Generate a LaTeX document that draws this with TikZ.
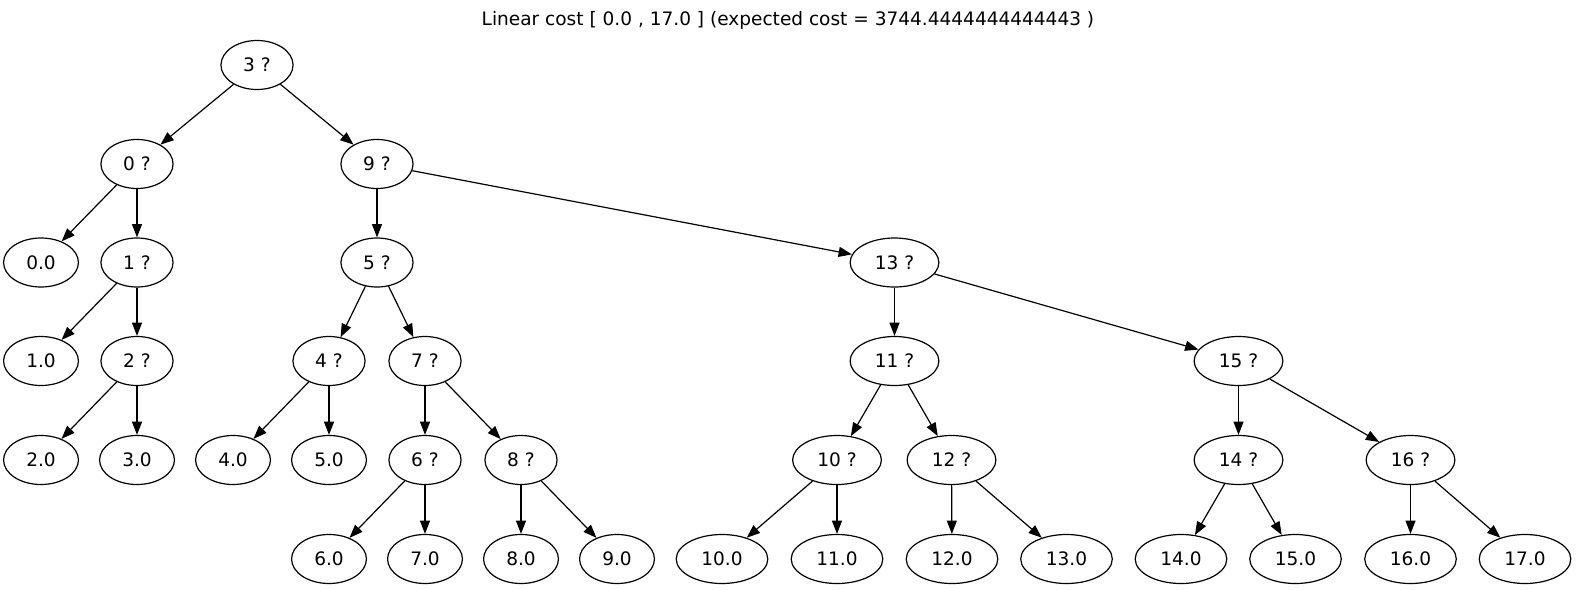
\documentclass[tikz,border=0pt]{standalone}
\usepackage{fontspec}
\setmainfont{DejaVu Sans}
\usetikzlibrary{shapes.geometric,arrows.meta}
\tikzset{
	tnode/.style={draw, ellipse, line width=0.9pt, minimum width=54pt, minimum height=36.75pt, inner xsep=8.8pt, inner ysep=0pt, font=\fontsize{13.9}{16}\selectfont},
	tedge/.style={-{Triangle[length=10pt, width=7.5pt]}, line width=0.9pt}
}
\begin{document}
\begin{tikzpicture}[x=0.75pt, y=-0.75pt]
		\useasboundingbox (0,0) rectangle (1576,589);
		\node[font=\fontsize{13.9}{16}\selectfont] (title) at (788,20) {Linear cost [ 0.0 , 17.0 ] (expected cost = 3744.4444444444443 )};
		\node[tnode] (r3) at (257,65) {3 ?};
		\node[tnode] (n0) at (137,164) {0 ?};
		\node[tnode] (n9) at (377,164) {9 ?};
		\node[tnode] (l00) at (41,262.5) {0.0};
		\node[tnode] (n1) at (137,262.5) {1 ?};
		\node[tnode] (n5) at (377,262.5) {5 ?};
		\node[tnode] (n13) at (894.5,262.5) {13 ?};
		\node[tnode] (l10) at (41,361) {1.0};
		\node[tnode] (n2) at (137,361) {2 ?};
		\node[tnode] (n4) at (329,361) {4 ?};
		\node[tnode] (n7) at (425,361) {7 ?};
		\node[tnode] (n11) at (894.5,361) {11 ?};
		\node[tnode] (n15) at (1238.5,361) {15 ?};
		\node[tnode] (l20) at (41,460) {2.0};
		\node[tnode] (l30) at (137,460) {3.0};
		\node[tnode] (l40) at (233,460) {4.0};
		\node[tnode] (l50) at (329,460) {5.0};
		\node[tnode] (n6) at (425,460) {6 ?};
		\node[tnode] (n8) at (521,460) {8 ?};
		\node[tnode] (n10) at (837,460) {10 ?};
		\node[tnode] (n12) at (951.5,460) {12 ?};
		\node[tnode] (n14) at (1238.5,460) {14 ?};
		\node[tnode] (n16) at (1410.5,460) {16 ?};
		\node[tnode] (l60) at (329,559) {6.0};
		\node[tnode] (l70) at (425,559) {7.0};
		\node[tnode] (l80) at (521,559) {8.0};
		\node[tnode] (l90) at (617,559) {9.0};
		\node[tnode] (l100) at (722,559) {10.0};
		\node[tnode] (l110) at (837,559) {11.0};
		\node[tnode] (l120) at (952,559) {12.0};
		\node[tnode] (l130) at (1066.5,559) {13.0};
		\node[tnode] (l140) at (1181,559) {14.0};
		\node[tnode] (l150) at (1295.5,559) {15.0};
		\node[tnode] (l160) at (1410.5,559) {16.0};
		\node[tnode] (l170) at (1525,559) {17.0};
		\draw[tedge] (r3) -- (n0);
		\draw[tedge] (r3) -- (n9);
		\draw[tedge] (n0) -- (l00);
		\draw[tedge] (n0) -- (n1);
		\draw[tedge] (n9) -- (n5);
		\draw[tedge] (n9) -- (n13);
		\draw[tedge] (n1) -- (l10);
		\draw[tedge] (n1) -- (n2);
		\draw[tedge] (n5) -- (n4);
		\draw[tedge] (n5) -- (n7);
		\draw[tedge] (n13) -- (n11);
		\draw[tedge] (n13) -- (n15);
		\draw[tedge] (n2) -- (l20);
		\draw[tedge] (n2) -- (l30);
		\draw[tedge] (n4) -- (l40);
		\draw[tedge] (n4) -- (l50);
		\draw[tedge] (n7) -- (n6);
		\draw[tedge] (n7) -- (n8);
		\draw[tedge] (n11) -- (n10);
		\draw[tedge] (n11) -- (n12);
		\draw[tedge] (n15) -- (n14);
		\draw[tedge] (n15) -- (n16);
		\draw[tedge] (n6) -- (l60);
		\draw[tedge] (n6) -- (l70);
		\draw[tedge] (n8) -- (l80);
		\draw[tedge] (n8) -- (l90);
		\draw[tedge] (n10) -- (l100);
		\draw[tedge] (n10) -- (l110);
		\draw[tedge] (n12) -- (l120);
		\draw[tedge] (n12) -- (l130);
		\draw[tedge] (n14) -- (l140);
		\draw[tedge] (n14) -- (l150);
		\draw[tedge] (n16) -- (l160);
		\draw[tedge] (n16) -- (l170);
		\end{tikzpicture}
\end{document}
